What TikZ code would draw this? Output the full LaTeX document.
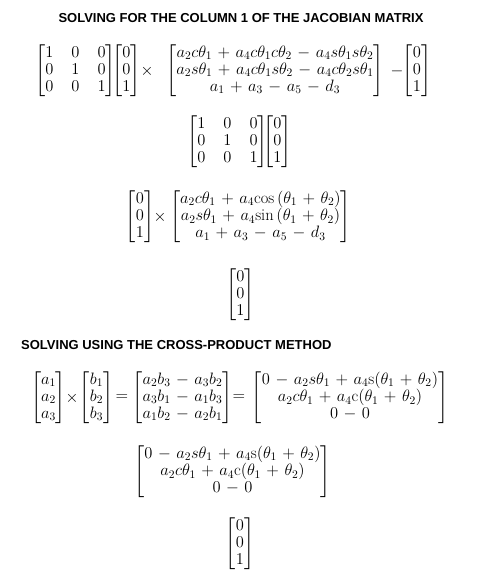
\RequirePackage{fix-cm}
\documentclass[tikz,border=0pt]{standalone}
\usepackage{amsmath}
\usepackage{fontspec}
\newfontfamily\headfont{Liberation Sans}
\medmuskip=6mu plus 2mu minus 4mu
\thickmuskip=6mu plus 5mu
\newcommand\IdMat{{\setlength{\arraycolsep}{9pt}\begin{bmatrix}1&0&0\\0&1&0\\0&0&1\end{bmatrix}}}
\newcommand\ZVec{\begin{bmatrix}0\\0\\1\end{bmatrix}}
\tikzset{
  eq/.style={inner sep=0pt, font=\fontsize{16.5}{17}\selectfont},
  op/.style={inner sep=0pt, font=\fontsize{16.5}{17}\selectfont},
  head/.style={inner sep=0pt, font=\headfont\bfseries\fontsize{13}{15}\selectfont},
}
\begin{document}
\begin{tikzpicture}[x=1pt,y=-1pt]
\useasboundingbox (0,0) rectangle (478,573);
% heading 1
\node[head] (h1) at (241,18) {SOLVING FOR THE COLUMN 1 OF THE JACOBIAN MATRIX};
% row 1
\node[eq] (r1i) at (75.5,71) {$\IdMat$};
\node[eq] (r1v) at (126.5,71) {$\ZVec$};
\node[op] (r1x) at (147,71) {$\times$};
\node[eq] (r1m) at (275,71) {$\begin{bmatrix}
a_2c\theta_1+a_4c\theta_1c\theta_2-a_4s\theta_1s\theta_2\\
a_2s\theta_1+a_4c\theta_1s\theta_2-a_4c\theta_2s\theta_1\\
a_1+a_3-a_5-d_3\end{bmatrix}$};
\node[op] (r1s) at (397,71) {$-$};
\node[eq] (r1w) at (417,71) {$\ZVec$};
% row 2
\node[eq] (r2i) at (227.5,142) {$\IdMat$};
\node[eq] (r2v) at (277.5,142) {$\ZVec$};
% row 3
\node[eq] (r3v) at (140,217) {$\ZVec$};
\node[op] (r3x) at (160,217) {$\times$};
\node[eq] (r3m) at (260.5,217) {$\begin{bmatrix}
a_2c\theta_1+a_4\mathrm{cos}\,(\theta_1+\theta_2)\\
a_2s\theta_1+a_4\mathrm{sin}\,(\theta_1+\theta_2)\\
a_1+a_3-a_5-d_3\end{bmatrix}$};
% row 4
\node[eq] (r4v) at (240.5,295) {$\ZVec$};
% heading 2
\node[head,anchor=west] (h2) at (21,345) {SOLVING USING THE CROSS-PRODUCT METHOD};
% row 5
\node[eq] (r5a) at (48.5,398) {$\begin{bmatrix}a_1\\a_2\\a_3\end{bmatrix}$};
\node[op] (r5x) at (72,398) {$\times$};
\node[eq] (r5b) at (96.5,398) {$\begin{bmatrix}b_1\\b_2\\b_3\end{bmatrix}$};
\node[op] (r5e) at (122,398) {$=$};
\node[eq] (r5m) at (182.5,398) {$\begin{bmatrix}a_2b_3-a_3b_2\\a_3b_1-a_1b_3\\a_1b_2-a_2b_1\end{bmatrix}$};
\node[op] (r5f) at (239,398) {$=$};
\node[eq] (r5n) at (350,398) {$\begin{bmatrix}
0-a_2s\theta_1+a_4\mathrm{s}(\theta_1+\theta_2)\\
a_2c\theta_1+a_4\mathrm{c}(\theta_1+\theta_2)\\
0-0\end{bmatrix}$};
% row 6
\node[eq] (r6m) at (232.5,472) {$\begin{bmatrix}
0-a_2s\theta_1+a_4\mathrm{s}(\theta_1+\theta_2)\\
a_2c\theta_1+a_4\mathrm{c}(\theta_1+\theta_2)\\
0-0\end{bmatrix}$};
% row 7
\node[eq] (r7v) at (240,544) {$\ZVec$};
\end{tikzpicture}
\end{document}
